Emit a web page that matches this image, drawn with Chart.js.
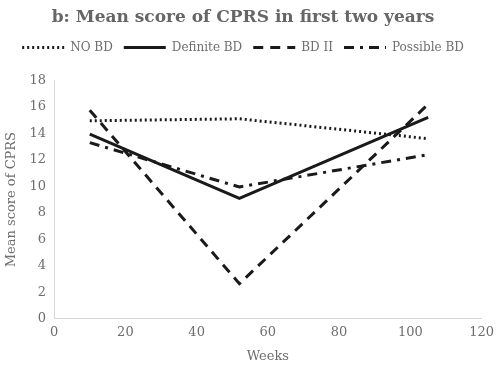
<!DOCTYPE html>
<html>
<head>
<meta charset="utf-8">
<script src="https://cdn.jsdelivr.net/npm/chart.js@4/dist/chart.umd.min.js"></script>
<style>
  html, body { margin: 0; padding: 0; background: #fff; }
  #wrap { width: 500px; height: 372px; }
</style>
</head>
<body>
<div id="wrap"><canvas id="myChart"></canvas></div>
<script>
'use strict';
let weeks = [10, 52, 105];
let seriesNames = ['NO BD', 'Definite BD', 'BD II', 'Possible BD'];
let noBd = [14.95, 15.1, 13.6];
let definiteBd = [13.95, 9.1, 15.2];
let bdII = [15.75, 2.65, 16.2];
let possibleBd = [13.3, 9.95, 12.4];
let dashes = [[2, 3], [], [10, 7], [10, 6, 3, 6]];
let values = [noBd, definiteBd, bdII, possibleBd];

let font = "'DejaVu Serif', 'Liberation Serif', serif";
let textColor = '#6e6e6e';

function points(arr) {
    return arr.map((v, i) => ({ x: weeks[i], y: v }));
}

let datasets = seriesNames.map((name, i) => ({
    label: name,
    data: points(values[i]),
    borderColor: '#1a1a1a',
    backgroundColor: '#1a1a1a',
    borderWidth: 3,
    borderDash: dashes[i],
    pointRadius: 0,
    tension: 0
}));

function legendLabels(chart) {
    let items = Chart.defaults.plugins.legend.labels.generateLabels(chart);
    items.forEach((item) => {
        let ds = chart.data.datasets[item.datasetIndex];
        item.lineDash = ds.borderDash;
        item.lineWidth = ds.borderWidth;
        item.strokeStyle = ds.borderColor;
        item.pointStyle = 'line';
    });
    return items;
}

// a bit more room under the legend, like the original
let legendGap = {
    id: 'legendGap',
    beforeInit(chart) {
        let fit = chart.legend.fit;
        chart.legend.fit = function () {
            fit.bind(chart.legend)();
            this.height += 17;
        };
    }
};

let ctx = document.getElementById('myChart').getContext('2d');
let myChart = new Chart(ctx, {
    type: 'line',
    data: { datasets: datasets },
    options: {
        responsive: true,
        maintainAspectRatio: false,
        animation: false,
        layout: { padding: { left: 0, right: 14, top: 5, bottom: 4 } },
        plugins: {
            title: {
                display: true,
                text: 'b: Mean score of CPRS in first two years',
                color: '#666666',
                font: { family: font, size: 17, weight: 'bold' },
                padding: { top: 2, bottom: 3 }
            },
            legend: {
                labels: {
                    usePointStyle: true,
                    pointStyleWidth: 42,
                    generateLabels: legendLabels,
                    color: textColor,
                    font: { family: font, size: 12 },
                    padding: 11
                }
            },
            tooltip: { enabled: false }
        },
        scales: {
            x: {
                type: 'linear',
                min: 0,
                max: 120,
                ticks: { stepSize: 20, color: textColor, font: { family: font, size: 13 }, padding: 6 },
                grid: { display: false, drawTicks: false },
                border: { color: '#d9d9d9', width: 1 },
                title: { display: true, text: 'Weeks', color: textColor, font: { family: font, size: 13 }, padding: { top: 2 } }
            },
            y: {
                min: 0,
                max: 18,
                ticks: { stepSize: 2, color: textColor, font: { family: font, size: 13 }, padding: 8 },
                grid: { display: false, drawTicks: false },
                border: { color: '#d9d9d9', width: 1 },
                title: { display: true, text: 'Mean score of CPRS', color: textColor, font: { family: font, size: 13 }, padding: { bottom: 2 } }
            }
        }
    },
    plugins: [legendGap]
});
</script>
</body>
</html>
